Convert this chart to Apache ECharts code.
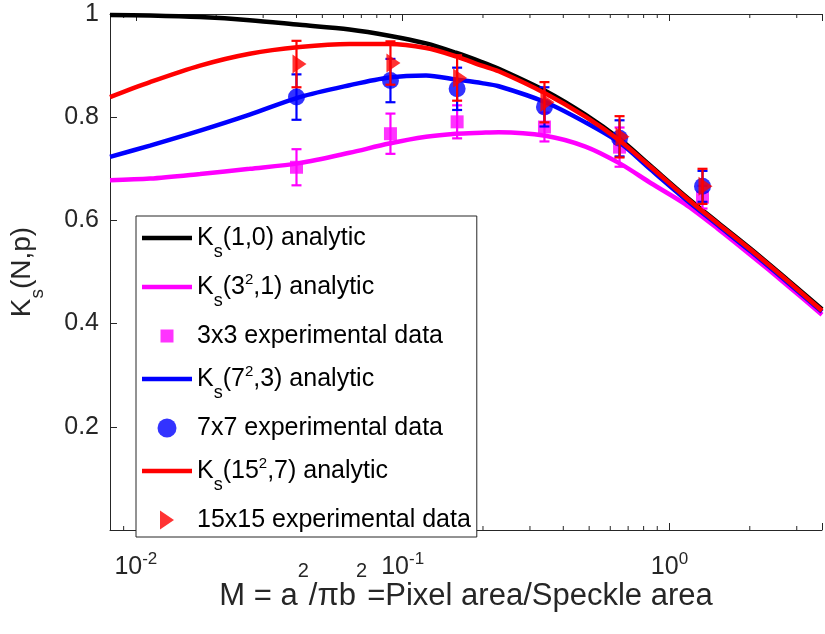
<!DOCTYPE html>
<html><head><meta charset="utf-8">
<script src="https://cdn.jsdelivr.net/npm/echarts@6/dist/echarts.min.js"></script>
<style>html,body{margin:0;padding:0;background:#fff}#c{width:825px;height:634px}</style>
</head><body><div id="c"></div>
<script>
// ---- data ----
const curveM   = [0.008, 0.0113, 0.0174, 0.0267, 0.0411, 0.0632, 0.089, 0.1224, 0.1583, 0.198, 0.2291, 0.343, 0.484, 0.653, 0.853, 1.142, 1.517, 2.014, 2.768, 3.73];
const ks1_0    = [0.998, 0.997, 0.994, 0.988, 0.979, 0.970, 0.958, 0.943, 0.925, 0.907, 0.894, 0.851, 0.805, 0.757, 0.705, 0.648, 0.596, 0.545, 0.485, 0.428];
const ks9_1    = [0.678, 0.681, 0.690, 0.700, 0.711, 0.731, 0.749, 0.762, 0.768, 0.770, 0.771, 0.764, 0.743, 0.710, 0.672, 0.632, 0.584, 0.533, 0.474, 0.417];
const ks49_3   = [0.723, 0.745, 0.774, 0.805, 0.839, 0.862, 0.877, 0.881, 0.873, 0.866, 0.860, 0.829, 0.790, 0.750, 0.698, 0.642, 0.591, 0.540, 0.480, 0.423];
const ks225_7  = [0.839, 0.868, 0.900, 0.923, 0.936, 0.942, 0.942, 0.934, 0.918, 0.900, 0.889, 0.846, 0.801, 0.754, 0.703, 0.646, 0.594, 0.543, 0.483, 0.425];

const expM     = [0.04, 0.09, 0.16, 0.34, 0.65, 1.33];
const exp3     = [0.703, 0.768, 0.791, 0.781, 0.742, 0.645];
const err3     = [0.035, 0.039, 0.032, 0.028, 0.038, 0.022];
const exp7     = [0.839, 0.871, 0.855, 0.820, 0.759, 0.666];
const err7     = [0.044, 0.042, 0.041, 0.038, 0.035, 0.030];
const exp15    = [0.903, 0.905, 0.876, 0.829, 0.762, 0.666];
const err15    = [0.045, 0.042, 0.044, 0.039, 0.040, 0.034];

const xMinorTicks = [0.009, 0.02, 0.03, 0.04, 0.05, 0.06, 0.07, 0.08, 0.09, 0.2, 0.3, 0.4, 0.5, 0.6, 0.7, 0.8, 0.9, 2, 3];
const yTickLabels = ['0.2', '0.4', '0.6', '0.8', '1'];

const names = ['Ks(1,0) analytic', 'Ks(3^2,1) analytic', '3x3 experimental data', 'Ks(7^2,3) analytic', '7x7 experimental data', 'Ks(15^2,7) analytic', '15x15 experimental data'];
const legendRich = {
  'Ks(1,0) analytic': 'K{sub|s}(1,0) analytic',
  'Ks(3^2,1) analytic': 'K{sub|s}(3{sup|2},1) analytic',
  '3x3 experimental data': '3x3 experimental data',
  'Ks(7^2,3) analytic': 'K{sub|s}(7{sup|2},3) analytic',
  '7x7 experimental data': '7x7 experimental data',
  'Ks(15^2,7) analytic': 'K{sub|s}(15{sup|2},7) analytic',
  '15x15 experimental data': '15x15 experimental data'
};

const AX = '#262626';
const FONT = 'Liberation Sans, Arial, Helvetica, sans-serif';

function zip(xs, ys) { return xs.map((x, i) => [x, ys[i]]); }
function errData(v, e) { return expM.map((m, i) => [m, v[i] - e[i], v[i] + e[i]]); }
function errRender(color) {
  return function (params, api) {
    const x = api.value(0);
    const lo = api.coord([x, api.value(1)]);
    const hi = api.coord([x, api.value(2)]);
    const hw = 5;
    const st = { stroke: color, lineWidth: 2.2, fill: null };
    return { type: 'group', children: [
      { type: 'line', shape: { x1: lo[0], y1: lo[1], x2: hi[0], y2: hi[1] }, style: st },
      { type: 'line', shape: { x1: lo[0] - hw, y1: lo[1], x2: lo[0] + hw, y2: lo[1] }, style: st },
      { type: 'line', shape: { x1: hi[0] - hw, y1: hi[1], x2: hi[0] + hw, y2: hi[1] }, style: st }
    ]};
  };
}
function isPow10(v) { const l = Math.log10(v); return Math.abs(l - Math.round(l)) < 1e-6; }

const lineIcon = 'path://M0,0H50V4.5H0Z';
const squareIcon = 'path://M0,0L0.05,0.05ZM3,3H16V16H3ZM19,19L18.95,18.95Z';
const triIcon = 'path://M0,0L14,9.5L0,19Z';

const chart = echarts.init(document.getElementById('c'), null, { renderer: 'canvas' });
const option = {
  backgroundColor: '#fff',
  animation: false,
  textStyle: { fontFamily: FONT },
  grid: { left: 110, top: 14, right: 0, bottom: 104, containLabel: false },
  xAxis: [{
    type: 'log', min: 0.008, max: 3.73, logBase: 10,
    axisLine: { show: true, lineStyle: { color: AX, width: 1 } },
    axisTick: { show: true, inside: true, length: 7, lineStyle: { color: AX } },
    splitLine: { show: false }, minorTick: { show: false },
    axisLabel: {
      margin: 25.5, color: AX, fontFamily: FONT, fontSize: 25, lineHeight: 24,
      formatter: function (v) {
        if (!isPow10(v)) return '';
        return '{b|10}{s|' + Math.round(Math.log10(v)) + '}';
      },
      rich: {
        b: { fontSize: 25, fontFamily: FONT, color: AX },
        s: { fontSize: 17, fontFamily: FONT, color: AX, padding: [0, 0, 17, 0] }
      }
    },
    name: 'M = a{sup|2}/\u03c0b{sup|2}=Pixel area/Speckle area',
    nameLocation: 'middle', nameGap: 50, nameMoveOverlap: false,
    nameTextStyle: {
      color: AX, fontFamily: FONT, fontSize: 31, lineHeight: 32,
      rich: {
        sup: { fontSize: 20, fontFamily: FONT, color: AX, padding: [0, 0, 50, 0] }
      }
    }
  }, {
    type: 'log', min: 0.008, max: 3.73, logBase: 10, position: 'top', gridIndex: 0,
    axisLine: { show: true, lineStyle: { color: AX, width: 1 } },
    axisTick: { show: true, inside: true, length: 7, lineStyle: { color: AX } },
    axisLabel: { show: false }, splitLine: { show: false }
  }],
  yAxis: [{
    type: 'value', min: 0, max: 1, interval: 0.2,
    axisLine: { show: true, lineStyle: { color: AX, width: 1 } },
    axisTick: { show: true, inside: true, length: 7, lineStyle: { color: AX } },
    splitLine: { show: false },
    axisLabel: {
      margin: 11, color: AX, fontFamily: FONT, fontSize: 25, padding: [5, 0, 0, 0],
      formatter: function (v) {
        const idx = Math.round(v / 0.2) - 1;
        return idx >= 0 ? yTickLabels[idx] : '';
      }
    },
    name: '{m|K}{sub|s}{m|(N,p)}',
    nameLocation: 'middle', nameGap: 54,
    nameTextStyle: {
      color: AX, fontFamily: FONT, fontSize: 28, lineHeight: 40,
      rich: {
        m: { fontSize: 28, fontFamily: FONT, color: AX, verticalAlign: 'top', height: 2, padding: [8, 0, 0, 0] },
        sub: { fontSize: 19, fontFamily: FONT, color: AX, verticalAlign: 'top', height: 2, padding: [23, 0, 0, 0] }
      }
    }
  }],
  legend: {
    orient: 'vertical', left: 136, top: 216,
    itemWidth: 50, itemHeight: 19, itemGap: 9,
    padding: [5, 6, 0, 6],
    backgroundColor: '#fff', borderColor: AX, borderWidth: 1, borderRadius: 0,
    itemStyle: { borderWidth: 0 },
    selectedMode: false,
    data: [
      { name: names[0], icon: lineIcon },
      { name: names[1], icon: lineIcon },
      { name: names[2], icon: squareIcon },
      { name: names[3], icon: lineIcon },
      { name: names[4], icon: 'circle' },
      { name: names[5], icon: lineIcon },
      { name: names[6], icon: triIcon }
    ],
    formatter: function (n) { return legendRich[n]; },
    textStyle: {
      color: '#000', fontFamily: FONT, fontSize: 25, lineHeight: 34,
      rich: {
        sub: { fontSize: 18, fontFamily: FONT, color: '#000', padding: [28, 0, 0, 0] },
        sup: { fontSize: 15, fontFamily: FONT, color: '#000', padding: [0, 0, 14, 0] }
      }
    }
  },
  series: [
    { name: 'minor ticks', type: 'custom', xAxisIndex: 0, yAxisIndex: 0, z: 1, silent: true,
      data: xMinorTicks.map(v => [v, 0]),
      renderItem: function (params, api) {
        const v = api.value(0);
        const pb = api.coord([v, 0]); const pt = api.coord([v, 1]);
        const st = { stroke: AX, lineWidth: 1 };
        return { type: 'group', children: [
          { type: 'line', shape: { x1: pb[0], y1: pb[1], x2: pb[0], y2: pb[1] - 4 }, style: st },
          { type: 'line', shape: { x1: pt[0], y1: pt[1], x2: pt[0], y2: pt[1] + 4 }, style: st }
        ]};
      }
    },
    { name: names[0], type: 'line', data: zip(curveM, ks1_0), showSymbol: false, symbol: 'none', smooth: 0.3, z: 2,
      color: '#000000', lineStyle: { color: '#000000', width: 4.5 } },
    { name: names[1], type: 'line', data: zip(curveM, ks9_1), showSymbol: false, symbol: 'none', smooth: 0.3, z: 3,
      color: '#ff00ff', lineStyle: { color: '#ff00ff', width: 4.5 } },
    { name: 'err3', type: 'custom', z: 4, data: errData(exp3, err3), renderItem: errRender('#ff00ff'), encode: { x: 0, y: [1, 2] } },
    { name: names[2], type: 'scatter', data: zip(expM, exp3), symbol: 'rect', symbolSize: 13, z: 5,
      color: '#ff00ff', itemStyle: { color: '#ff00ff' } },
    { name: names[3], type: 'line', data: zip(curveM, ks49_3), showSymbol: false, symbol: 'none', smooth: 0.3, z: 6,
      color: '#0000ff', lineStyle: { color: '#0000ff', width: 4.5 } },
    { name: 'err7', type: 'custom', z: 7, data: errData(exp7, err7), renderItem: errRender('#0000ff'), encode: { x: 0, y: [1, 2] } },
    { name: names[4], type: 'scatter', data: zip(expM, exp7), symbol: 'circle', symbolSize: 17, z: 8,
      color: '#0000ff', itemStyle: { color: '#0000ff' } },
    { name: names[5], type: 'line', data: zip(curveM, ks225_7), showSymbol: false, symbol: 'none', smooth: 0.3, z: 9,
      color: '#ff0000', lineStyle: { color: '#ff0000', width: 4.5 } },
    { name: 'err15', type: 'custom', z: 10, data: errData(exp15, err15), renderItem: errRender('#ff0000'), encode: { x: 0, y: [1, 2] } },
    { name: names[6], type: 'scatter', data: zip(expM, exp15), symbol: 'triangle', symbolSize: [19, 14], symbolRotate: -90, symbolOffset: [3, 0], z: 11,
      color: '#ff0000', itemStyle: { color: '#ff0000' } }
  ]
};
chart.setOption(option);
</script>
</body></html>
